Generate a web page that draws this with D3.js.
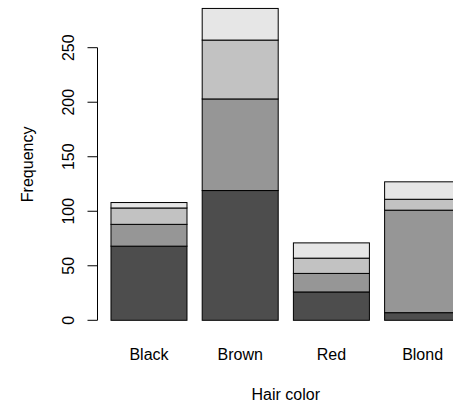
<!DOCTYPE html>
<html>
<head>
<meta charset="utf-8">
<script src="https://cdn.jsdelivr.net/npm/d3@7"></script>
<style>
  html, body { margin: 0; padding: 0; background: #fff; }
  svg { display: block; }
  text { font-family: "Liberation Sans", Arial, sans-serif; font-size: 16px; fill: #000; }
</style>
</head>
<body>
<svg id="chart" width="453" height="404"></svg>
<script>
// Hair colour totals, stacked by eye colour (bottom to top)
const hairColors = ["Black", "Brown", "Red", "Blond"];
const eyeColors = ["Brown", "Blue", "Hazel", "Green"];
const eyeBrown = [68, 119, 26, 7];
const eyeBlue = [20, 84, 17, 94];
const eyeHazel = [15, 54, 14, 10];
const eyeGreen = [5, 29, 14, 16];
const yTicks = [0, 50, 100, 150, 200, 250];
const fills = ["#4D4D4D", "#969696", "#C2C2C2", "#E6E6E6"];

const series = [eyeBrown, eyeBlue, eyeHazel, eyeGreen];
const rows = hairColors.map((h, i) => {
  const r = { hair: h };
  eyeColors.forEach((e, k) => { r[e] = series[k][i]; });
  return r;
});
const stacked = d3.stack().keys(eyeColors)(rows);

const svg = d3.select("#chart");

// bar i spans [0.2 + 1.2 i, 1.2 + 1.2 i] in user units
const x = d3.scaleLinear().domain([0.016, 4.984]).range([97, 474.6]);
const y = d3.scaleLinear().domain([0, 250]).range([320.3, 47.7]);

const g = svg.append("g");
stacked.forEach((layer, k) => {
  g.selectAll(null)
    .data(layer)
    .enter()
    .append("rect")
    .attr("x", (d, i) => x(0.2 + 1.2 * i))
    .attr("width", (d, i) => x(1.2 + 1.2 * i) - x(0.2 + 1.2 * i))
    .attr("y", d => y(d[1]))
    .attr("height", d => y(d[0]) - y(d[1]))
    .attr("fill", fills[k])
    .attr("stroke", "#000")
    .attr("stroke-width", 1);
});

// left axis
const axis = svg.append("g").attr("transform", "translate(97.5,0)");
axis.append("line")
  .attr("x1", 0).attr("x2", 0)
  .attr("y1", y(0)).attr("y2", y(250))
  .attr("stroke", "#000");
axis.selectAll(".tick")
  .data(yTicks)
  .enter()
  .append("line")
  .attr("x1", -10).attr("x2", 0)
  .attr("y1", d => y(d)).attr("y2", d => y(d))
  .attr("stroke", "#000");
svg.selectAll(".ylab")
  .data(yTicks)
  .enter()
  .append("text")
  .attr("transform", d => `translate(73.5,${y(d)}) rotate(-90)`)
  .attr("text-anchor", "middle")
  .text(d => d);

// category labels
svg.selectAll(".xlab")
  .data(hairColors)
  .enter()
  .append("text")
  .attr("x", (d, i) => x(0.7 + 1.2 * i))
  .attr("y", 360)
  .attr("text-anchor", "middle")
  .text(d => d);

// axis titles, centred on the plotting region
svg.append("text")
  .attr("x", x(2.5))
  .attr("y", 400)
  .attr("text-anchor", "middle")
  .text("Hair color");
svg.append("text")
  .attr("transform", `translate(32.7,${y(143)}) rotate(-90)`)
  .attr("text-anchor", "middle")
  .text("Frequency");
</script>
</body>
</html>
